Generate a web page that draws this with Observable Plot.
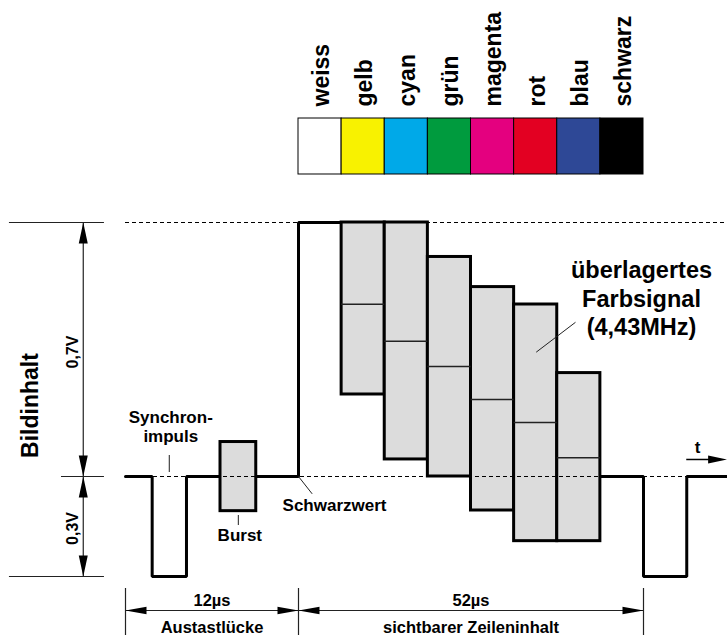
<!DOCTYPE html>
<html>
<head>
<meta charset="utf-8">
<script src="https://cdn.jsdelivr.net/npm/d3@7"></script>
<script src="https://cdn.jsdelivr.net/npm/@observablehq/plot@0.6"></script>
<style>
  html, body { margin: 0; padding: 0; background: #fff; }
  svg { display: block; }
</style>
</head>
<body>
<div id="chart"></div>
<script>
// ---------------- data ----------------
// colour bars (visible line content, time in µs, level in V)
const barNames     = ["weiss", "gelb", "cyan", "grün", "magenta", "rot", "blau", "schwarz"];
const barColors    = ["#ffffff", "#f8f200", "#00a9e8", "#009b3e", "#e4007f", "#e30022", "#2e4896", "#000000"];
const barStart     = [0, 6.5, 13, 19.5, 26, 32.5, 39, 45.5];
const barEnd       = [6.5, 13, 19.5, 26, 32.5, 39, 45.5, 52];
const lumaLevel    = [0.70, 0.475, 0.373, 0.303, 0.212, 0.149, 0.052, 0.0];
const chromaTop    = [0.70, 0.70, 0.70, 0.605, 0.522, 0.474, 0.285, 0.0];
const chromaBottom = [0.70, 0.226, 0.047, 0.0, -0.102, -0.194, -0.194, 0.0];

// blanking interval and signal line segments
const blankTime  = [-12, -10.15, -10.15, -7.77, -7.77, -5.41];
const blankLevel = [0, 0, -0.3, -0.3, 0, 0];
const porchTime  = [-2.93, 0, 0, 6.5];
const porchLevel = [0, 0, 0.7, 0.7];
const tailTime   = [45.5, 52, 52, 55, 55, 57.8];
const tailLevel  = [0, 0, -0.3, -0.3, 0, 0];
const burstTime  = [-5.41, -2.93];
const burstLevel = [-0.104, 0.095];

// reference levels (V) and time marks (µs)
const whiteLevel = 0.7, blackLevel = 0, syncLevel = -0.3;
const lineStart = -12, lineEnd = 57.8;
const spanStart = [-12, 0];
const spanEnd   = [0, 52];
const spanValue = ["12µs", "52µs"];
const spanName  = ["Austastlücke", "sichtbarer Zeileninhalt"];

// scale knots (diagram is not drawn to scale -> piecewise)
const timeKnots = [-12, 0, 52, 64];
const voltKnots = [-0.3, 0, 0.7];

// ---------------- tables ----------------
const bars = barNames.map((name, i) => ({
  name, color: barColors[i], t1: barStart[i], t2: barEnd[i],
  tm: (barStart[i] + barEnd[i]) / 2,
  luma: lumaLevel[i], top: chromaTop[i], bottom: chromaBottom[i]
}));
const chroma = bars.slice(1, 7);

const signal = [
  ...blankTime.map((t, i) => ({seg: "a", t, v: blankLevel[i]})),
  ...porchTime.map((t, i) => ({seg: "b", t, v: porchLevel[i]})),
  ...tailTime.map((t, i) => ({seg: "c", t, v: tailLevel[i]}))
];
const burst = [{t1: burstTime[0], t2: burstTime[1], v1: burstLevel[0], v2: burstLevel[1]}];
const syncMid = (blankTime[1] + blankTime[3]) / 2;
const burstMid = (burstTime[0] + burstTime[1]) / 2;

const spans = spanStart.map((s, i) => ({s, e: spanEnd[i], m: (s + spanEnd[i]) / 2, value: spanValue[i], name: spanName[i]}));

// annotation placement (in data units)
const dimT = -14.93;               // vertical dimension line
const extLeft = -20.05, extRight = -13.46, extBlackLeft = -16.44;
const spanLevel = -0.402, extTop = -0.336, extBottom = -0.48;
const swatchBottom = 0.8323, swatchTop = 0.9866, swatchLabel = 1.0197;

const vArrows = [
  {t: dimT, v: whiteLevel, r: 0},
  {t: dimT, v: blackLevel, r: 180},
  {t: dimT, v: blackLevel, r: 0},
  {t: dimT, v: syncLevel, r: 180}
];
const hArrows = [
  {t: spanStart[0], v: spanLevel, r: -90},
  {t: spanEnd[0], v: spanLevel, r: 90},
  {t: spanStart[1], v: spanLevel, r: -90},
  {t: spanEnd[1], v: spanLevel, r: 90}
];

const font = "'Liberation Sans', Arial, Helvetica, sans-serif";

const chart = Plot.plot({
  width: 727,
  height: 635,
  margin: 0,
  x: {type: "linear", domain: timeKnots, range: [125, 298, 643, 816], axis: null},
  y: {type: "linear", domain: voltKnots, range: [576, 476, 222], axis: null},
  color: {type: "identity"},
  style: {fontFamily: font, fontWeight: "bold", background: "#fff", color: "#000"},
  marks: [
    // colour swatches and their names
    Plot.rect(bars, {x1: "t1", x2: "t2", y1: swatchBottom, y2: swatchTop, fill: "color", stroke: "#000", strokeWidth: 1}),
    Plot.text(bars, {x: "tm", y: swatchLabel, text: "name", rotate: -90, textAnchor: "start", fontSize: 23, fontWeight: "bold", dx: 1.5, fill: "#000"}),

    // white level reference (dashed)
    Plot.ruleY([whiteLevel], {x1: lineStart, x2: lineEnd, stroke: "#000", strokeWidth: 1, strokeDasharray: "4,3"}),

    // signal line
    Plot.line(signal, {x: "t", y: "v", z: "seg", stroke: "#000", strokeWidth: 3, strokeLinejoin: "miter"}),

    // burst and chroma envelopes
    Plot.rect(burst, {x1: "t1", x2: "t2", y1: "v1", y2: "v2", fill: "#dcdcdc", stroke: "#000", strokeWidth: 3}),
    Plot.rect(chroma, {x1: "t1", x2: "t2", y1: "bottom", y2: "top", fill: "#dcdcdc", stroke: "#000", strokeWidth: 3}),

    // black level reference (dashed)
    Plot.ruleY([blackLevel], {x1: lineStart, x2: lineEnd, stroke: "#000", strokeWidth: 1, strokeDasharray: "4,3"}),

    // luminance levels inside chroma boxes
    Plot.ruleY(chroma, {x1: "t1", x2: "t2", y: "luma", stroke: "#222", strokeWidth: 1.5}),

    // vertical dimension lines (0,7V / 0,3V)
    Plot.ruleX([dimT], {y1: syncLevel, y2: whiteLevel, stroke: "#222", strokeWidth: 1.2}),
    Plot.ruleY([whiteLevel, syncLevel], {x1: extLeft, x2: extRight, stroke: "#222", strokeWidth: 1.2}),
    Plot.ruleY([blackLevel], {x1: extBlackLeft, x2: extRight, stroke: "#222", strokeWidth: 1.2}),
    Plot.vector(vArrows, {x: "t", y: "v", rotate: "r", length: 21, r: 4.5, anchor: "end", shape: "spike", fill: "#000", stroke: "none"}),
    Plot.text(["0,7V"], {x: -15.29, y: (whiteLevel + blackLevel) / 2 - 0.007, text: d => d, rotate: -90, textAnchor: "middle", lineAnchor: "bottom", fontSize: 16, fontWeight: "bold"}),
    Plot.text(["0,3V"], {x: -15.29, y: -0.156, text: d => d, rotate: -90, textAnchor: "middle", lineAnchor: "bottom", fontSize: 16, fontWeight: "bold"}),
    Plot.text(["Bildinhalt"], {x: -18.1, y: 0.1957, text: d => d, rotate: -90, textAnchor: "middle", lineAnchor: "bottom", fontSize: 23, fontWeight: "bold"}),

    // horizontal dimension lines (12µs / 52µs)
    Plot.ruleX([spanStart[0], spanStart[1], spanEnd[1]], {y1: extBottom, y2: extTop, stroke: "#222", strokeWidth: 1.2}),
    Plot.ruleY(spans, {x1: "s", x2: "e", y: spanLevel, stroke: "#222", strokeWidth: 1.2}),
    Plot.vector(hArrows, {x: "t", y: "v", rotate: "r", length: 21, r: 3.8, anchor: "end", shape: "spike", fill: "#000", stroke: "none"}),
    Plot.text(spans, {x: "m", y: -0.387, text: "value", textAnchor: "middle", lineAnchor: "bottom", fontSize: 16.5, fontWeight: "bold"}),
    Plot.text(spans, {x: "m", y: -0.4685, text: "name", textAnchor: "middle", lineAnchor: "bottom", fontSize: 16.5, fontWeight: "bold"}),

    // Synchronimpuls label (two lines)
    Plot.text(["Synchron-\nimpuls"], {x: syncMid + 0.1, y: 0.0951, text: d => d, textAnchor: "middle", lineAnchor: "bottom", lineHeight: 1.12, fontSize: 17, fontWeight: "bold"}),
    Plot.ruleX([syncMid], {y1: 0.011, y2: 0.058, stroke: "#444", strokeWidth: 1.2}),

    // Burst label
    Plot.ruleX([burstMid], {y1: -0.147, y2: -0.117, stroke: "#444", strokeWidth: 1.2}),
    Plot.text(["Burst"], {x: burstMid + 0.1, y: -0.192, text: d => d, textAnchor: "middle", lineAnchor: "bottom", fontSize: 17, fontWeight: "bold"}),

    // Schwarzwert label
    Plot.link([{t1: 0, v1: blackLevel, t2: 2.06, v2: -0.052}], {x1: "t1", y1: "v1", x2: "t2", y2: "v2", stroke: "#222", strokeWidth: 1}),
    Plot.text(["Schwarzwert"], {x: 5.43, y: -0.1035, text: d => d, textAnchor: "middle", lineAnchor: "bottom", fontSize: 17, fontWeight: "bold"}),

    // chroma label
    Plot.link([{t1: 41.75, v1: 0.425, t2: 35.83, v2: 0.3426}], {x1: "t1", y1: "v1", x2: "t2", y2: "v2", stroke: "#222", strokeWidth: 1}),
    Plot.text(["überlagertes\nFarbsignal\n(4,43MHz)"], {x: 51.7, y: 0.3886, text: d => d, textAnchor: "middle", lineAnchor: "bottom", lineHeight: 1.213, fontSize: 23.5, fontWeight: "bold"}),

    // time arrow
    Plot.ruleY([0.0469], {x1: 55, x2: 57.0, stroke: "#000", strokeWidth: 1.5}),
    Plot.vector([{t: lineEnd, v: 0.0469}], {x: "t", y: "v", rotate: 90, length: 19, r: 4, anchor: "end", shape: "spike", fill: "#000", stroke: "none"}),
    Plot.text(["t"], {x: 55.75, y: 0.0634, text: d => d, textAnchor: "middle", lineAnchor: "bottom", fontSize: 17, fontWeight: "bold"})
  ]
});

document.getElementById("chart").appendChild(chart);
</script>
</body>
</html>
